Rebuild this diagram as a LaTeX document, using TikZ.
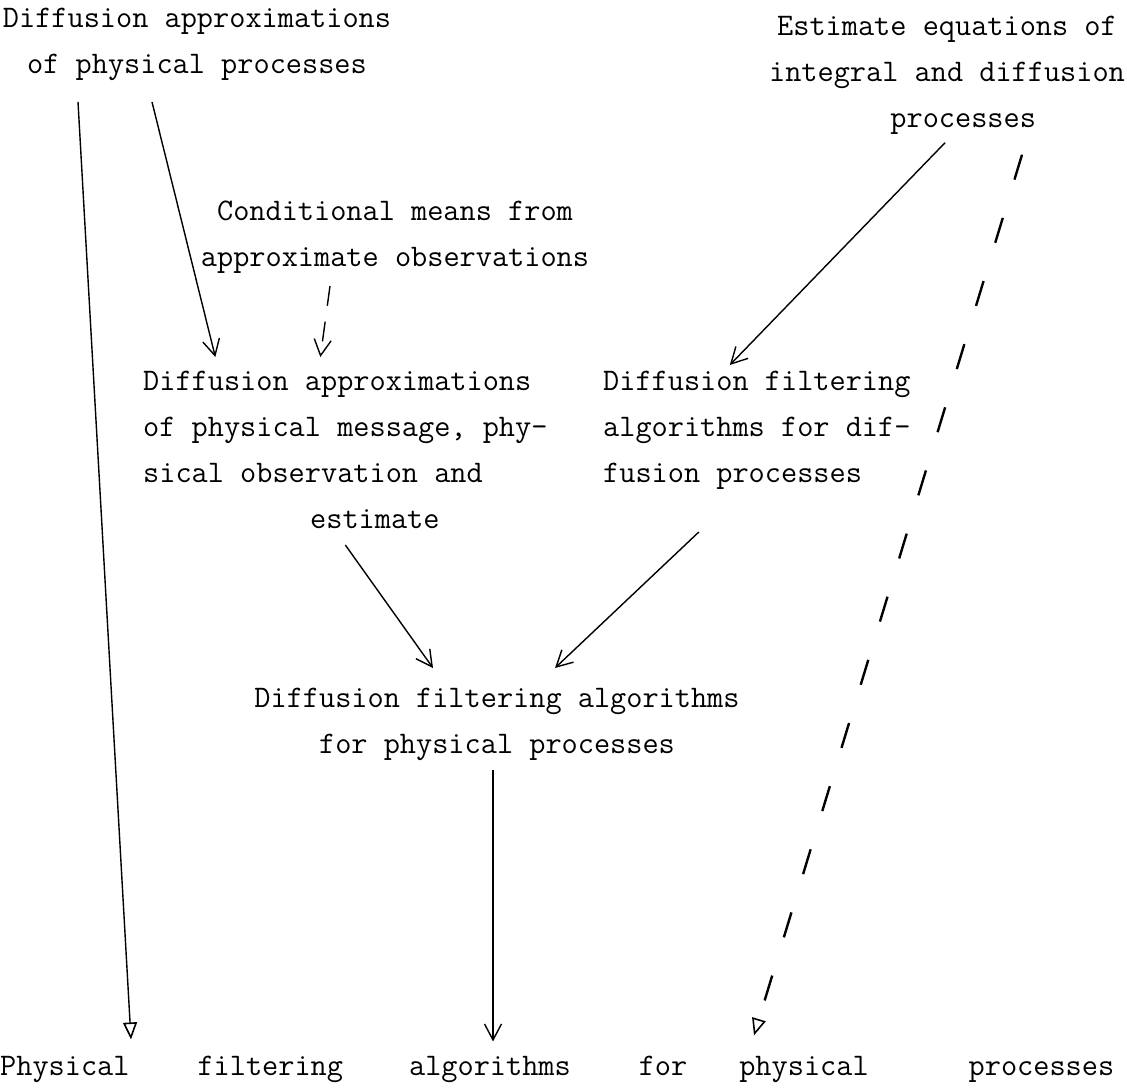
\documentclass[tikz,border=0pt]{standalone}
\usepackage{fontspec}
\usetikzlibrary{arrows.meta,calc}
\begin{document}
\begin{tikzpicture}[x=1pt,y=-1pt,
  txt/.style={inner sep=0pt, font=\ttfamily\fontsize{31.4}{46}\selectfont},
  line/.style={line width=1.4pt, black},
  barb/.style={line, -{Straight Barb[length=16pt,width=17pt,line width=1.4pt]}},
  hollow/.style={line, -{Triangle[open,length=17pt,width=14pt,line width=1.6pt]}},
  dashA/.style={dash pattern=on 20pt off 16pt},
  dashB/.style={line width=2.4pt, dash pattern=on 26pt off 40pt}]
\useasboundingbox (0,0) rectangle (1127,1090);

\node[txt, anchor=north, align=center] (A) at (197,8) {Diffusion approximations\\of physical processes};
\node[txt, anchor=north, align=center] (B) at (947,16) {Estimate equations of\\integral and diffusion\\\phantom{xx}processes};
\node[txt, anchor=north, align=center] (C) at (395,201) {Conditional means from\\approximate observations};
\node[txt, anchor=north west, align=left] (D) at (143,371) {Diffusion approximations\\of physical message, phy-\\sical observation and\\\hspace*{167pt}estimate};
\node[txt, anchor=north west, align=left] (E) at (603,371) {Diffusion filtering\\algorithms for dif-\\fusion processes};
\node[txt, anchor=north, align=center] (F) at (497,688) {Diffusion filtering algorithms\\for physical processes};
\node[txt, anchor=base west] (G) at (0,1075) {Physical\hspace{68pt}filtering\hspace{66pt}algorithms\hspace{68pt}for\hspace{52pt}physical\hspace{100pt}processes};

\draw[hollow] ($(A.south)+(-119,21)$) -- ($(G.north west)+(131,-16)$);
\draw[barb] ($(A.south)+(-45,21)$) -- ($(D.north)+(-130,-14)$);
\draw[barb,dashA] ($(C.south)+(-65,12)$) -- ($(D.north)+(-25,-14)$);
\draw[barb] ($(B.south)+(-2,8)$) -- ($(E.north)+(-27,-6)$);
\draw[hollow,dashB] ($(B.south)+(75,20)$) -- ($(G.north west)+(754,-20)$);
\draw[barb] ($(D.north)+(0,174)$) -- ($(F.north)+(-64,-20)$);
\draw[barb] ($(E.north)+(-58,161)$) -- ($(F.north)+(58,-20)$);
\draw[barb] ($(F.south)+(-4,9)$) -- ($(G.north west)+(493,-14)$);
\end{tikzpicture}
\end{document}
